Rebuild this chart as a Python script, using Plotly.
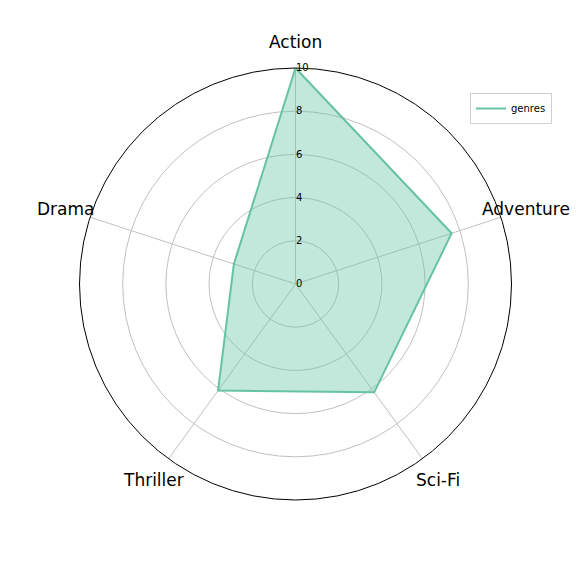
import math
import plotly.graph_objects as go

categories = ["Action", "Adventure", "Sci-Fi", "Thriller", "Drama"]
values = [10, 7.6, 6.2, 6.1, 3.0]
radial_ticks = [0, 2, 4, 6, 8, 10]
series_name = "genres"

r_closed = values + [values[0]]
theta_closed = categories + [categories[0]]

W = H = 576
cx, cy, R = 295.5, 284.0, 216.0
label_r = 242.0

fig = go.Figure()
fig.add_trace(go.Scatterpolar(
    r=r_closed, theta=theta_closed, mode="lines", name=series_name,
    fill="toself", fillcolor="rgba(102,194,165,0.4)",
    line=dict(color="rgba(0,0,0,0)", width=0), showlegend=False,
    hoverinfo="skip",
))
fig.add_trace(go.Scatterpolar(
    r=r_closed, theta=theta_closed, mode="lines", name=series_name,
    line=dict(color="#66c2a5", width=2),
))

annotations = []
n = len(categories)
for i, cat in enumerate(categories):
    ang = 2 * math.pi * i / n
    px = cx + label_r * math.sin(ang)
    py = cy - label_r * math.cos(ang)
    annotations.append(dict(
        x=px / W, y=1 - py / H, xref="paper", yref="paper",
        text=cat, showarrow=False, xanchor="center", yanchor="middle",
        font=dict(size=17, color="black", family="DejaVu Sans"),
    ))

fig.update_layout(
    width=W, height=H,
    margin=dict(l=0, r=0, t=0, b=0),
    paper_bgcolor="white",
    font=dict(family="DejaVu Sans", color="black"),
    annotations=annotations,
    polar=dict(
        domain=dict(x=[(cx - R) / W, (cx + R) / W], y=[1 - (cy + R) / H, 1 - (cy - R) / H]),
        bgcolor="white",
        angularaxis=dict(
            rotation=90, direction="clockwise",
            showticklabels=False,
            showline=True, linecolor="black", linewidth=1,
            gridcolor="#c0c0c0", gridwidth=1,
            ticks="",
        ),
        radialaxis=dict(
            range=[0, 10], tickvals=radial_ticks, angle=90, tickangle=90,
            tickfont=dict(size=10, color="black"),
            showline=False, gridcolor="#c0c0c0", gridwidth=1,
            ticks="", side="clockwise",
        ),
    ),
    showlegend=True,
    legend=dict(x=470 / W, y=1 - 93 / H, xanchor="left", yanchor="top",
                bordercolor="#d0d0d0", borderwidth=1, bgcolor="white",
                font=dict(size=10), itemwidth=30,
                tracegroupgap=0),
)

fig.write_html("out.html")
